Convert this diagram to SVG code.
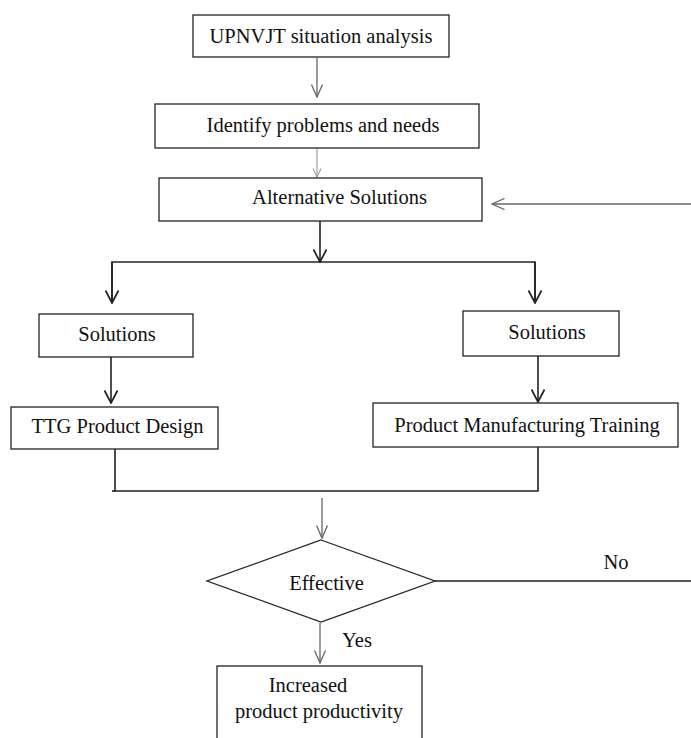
<svg xmlns="http://www.w3.org/2000/svg" width="691" height="738" viewBox="0 0 691 738">
<style>
  .box { fill: #fff; stroke: #222; stroke-width: 1.3; }
  .t { font-family: "Liberation Serif", "Times New Roman", serif; font-size: 20.5px; fill: #111; text-anchor: middle; }
  .ln { fill: none; stroke: #222; stroke-width: 1.6; }
  .lg { fill: none; stroke: #666; stroke-width: 1.3; }
  .lg2 { fill: none; stroke: #999; stroke-width: 1.1; }
</style>
<defs>
  <marker id="ab" markerUnits="userSpaceOnUse" viewBox="0 0 14 14" refX="13" refY="7" markerWidth="14" markerHeight="14" orient="auto">
    <path d="M0.5,0.5 L13,7 L0.5,13.5" fill="none" stroke="#222" stroke-width="1.7"/>
  </marker>
  <marker id="ag" markerUnits="userSpaceOnUse" viewBox="0 0 14 12" refX="13" refY="6" markerWidth="14" markerHeight="12" orient="auto">
    <path d="M0.5,0.5 L13,6 L0.5,11.5" fill="none" stroke="#666" stroke-width="1.3"/>
  </marker>
  <marker id="ag2" markerUnits="userSpaceOnUse" viewBox="0 0 10 10" refX="9" refY="5" markerWidth="10" markerHeight="10" orient="auto">
    <path d="M0.5,1 L9,5 L0.5,9" fill="none" stroke="#999" stroke-width="1.1"/>
  </marker>
</defs>

<g id="connectors">
  <line class="lg" x1="317" y1="58" x2="317" y2="97" marker-end="url(#ag)"/>
  <line class="lg2" x1="317" y1="149" x2="317" y2="177" marker-end="url(#ag2)"/>
  <line class="lg" x1="691" y1="204" x2="492" y2="204" marker-end="url(#ag)"/>
  <line class="ln" x1="320" y1="221" x2="320" y2="262" marker-end="url(#ab)"/>
  <polyline class="ln" points="112,303 112,262 535,262 535,303"/>
  <line class="ln" x1="112" y1="262" x2="112" y2="303" marker-end="url(#ab)"/>
  <line class="ln" x1="535" y1="262" x2="535" y2="303" marker-end="url(#ab)"/>
  <line class="ln" x1="111" y1="357" x2="111" y2="403" marker-end="url(#ab)"/>
  <line class="ln" x1="538" y1="356" x2="538" y2="402" marker-end="url(#ab)"/>
  <polyline class="ln" points="115,449 115,491 538,491 538,447"/>
  <line class="ln" x1="112" y1="491" x2="115" y2="491"/>
  <line class="lg" x1="322" y1="498" x2="322" y2="538" marker-end="url(#ag)"/>
  <line class="ln" x1="435" y1="581" x2="691" y2="581"/>
  <line class="lg" x1="320" y1="623" x2="320" y2="663" marker-end="url(#ag)"/>
</g>

<g id="n1">
  <rect class="box" x="193" y="15" width="256" height="42"/>
  <text class="t" x="321" y="43">UPNVJT situation analysis</text>
</g>
<g id="n2">
  <rect class="box" x="155" y="104" width="324" height="44"/>
  <text class="t" x="323" y="132">Identify problems and needs</text>
</g>
<g id="n3">
  <rect class="box" x="159" y="178" width="323" height="43"/>
  <text class="t" x="339.5" y="204">Alternative Solutions</text>
</g>
<g id="n4">
  <rect class="box" x="39" y="314" width="154" height="43"/>
  <text class="t" x="117" y="341">Solutions</text>
</g>
<g id="n5">
  <rect class="box" x="463" y="311" width="156" height="45"/>
  <text class="t" x="547" y="339">Solutions</text>
</g>
<g id="n6">
  <rect class="box" x="11" y="407" width="207" height="42"/>
  <text class="t" x="117.5" y="433">TTG Product Design</text>
</g>
<g id="n7">
  <rect class="box" x="373" y="403" width="305" height="44"/>
  <text class="t" x="527" y="432">Product Manufacturing Training</text>
</g>
<g id="n8">
  <polygon class="box" points="321,540 435,581 321,622 207,581"/>
  <text class="t" x="326.5" y="590">Effective</text>
</g>
<g id="n9">
  <rect class="box" x="217" y="666" width="205" height="80"/>
  <text class="t" x="308" y="692">Increased</text>
  <text class="t" x="319" y="718">product productivity</text>
</g>
<g id="labels">
  <text class="t" x="616" y="569">No</text>
  <text class="t" x="357" y="647">Yes</text>
</g>
</svg>
